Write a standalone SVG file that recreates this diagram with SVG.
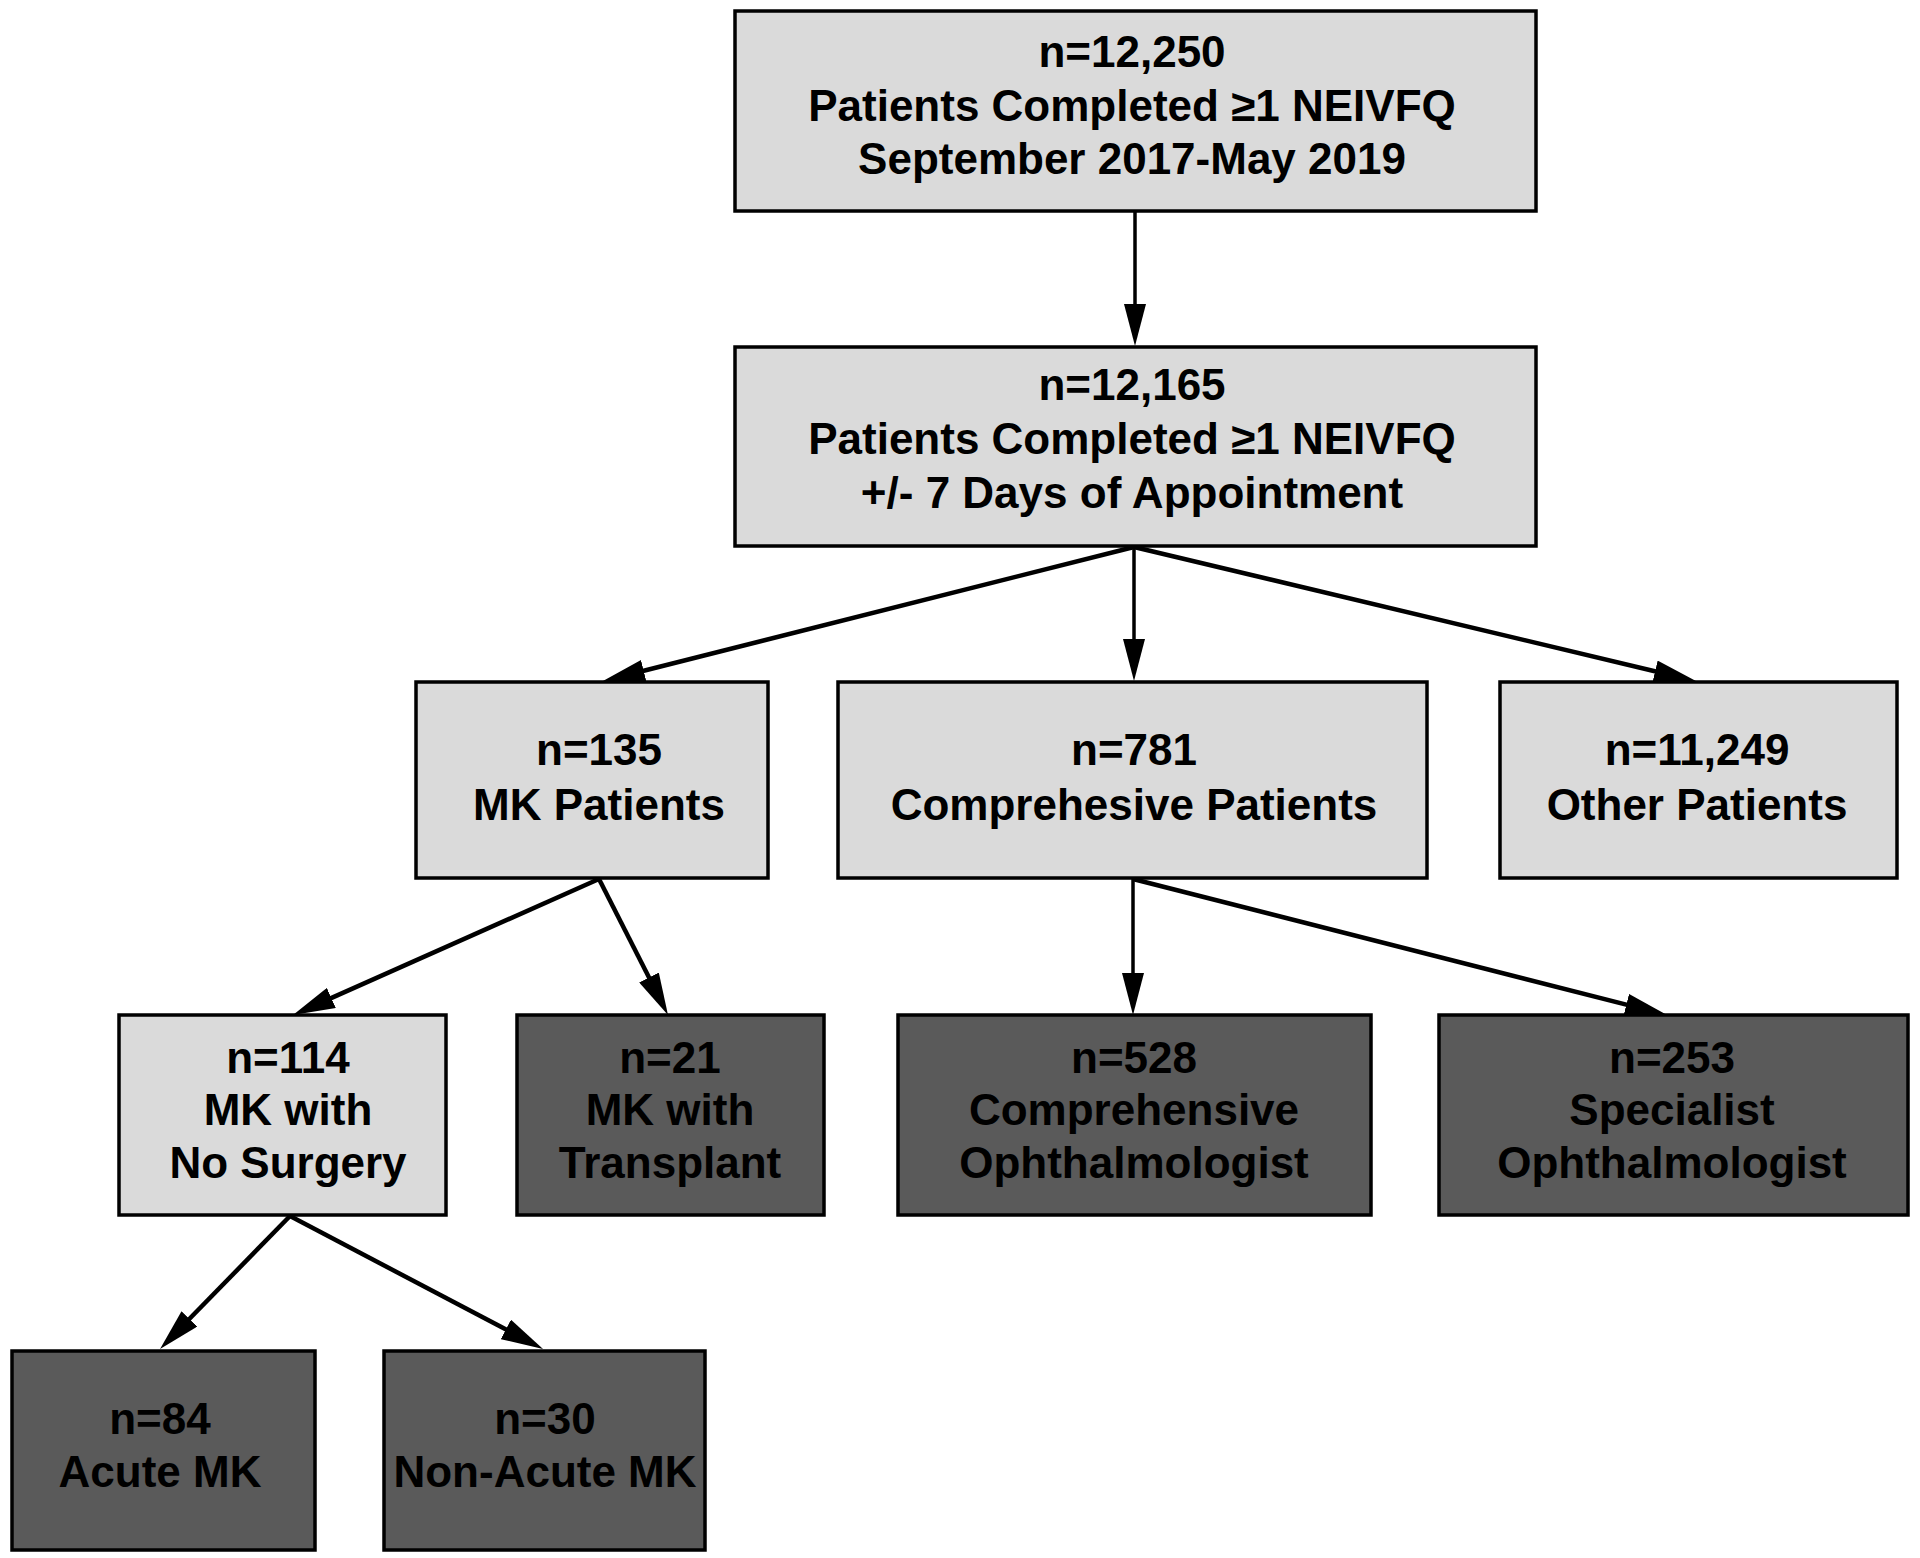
<svg xmlns="http://www.w3.org/2000/svg" width="1920" height="1558" viewBox="0 0 1920 1558">
<defs>
<marker id="ah" markerUnits="userSpaceOnUse" markerWidth="42" markerHeight="22" viewBox="0 0 42 22" refX="4" refY="11" orient="auto">
<path d="M0,0 L42,11 L0,22 z" fill="#000"/>
</marker>
<style>
.light{fill:#dadada;stroke:#000;stroke-width:3.5}
.dark{fill:#5a5a5a;stroke:#000;stroke-width:3.5}
text{font-family:"Liberation Sans",Arial,sans-serif;font-weight:bold;font-size:44px;fill:#000;text-anchor:middle}
.edge{stroke:#000;stroke-width:4.5;fill:none;marker-end:url(#ah)}
.v{stroke-width:3.5}
</style>
</defs>
<rect width="1920" height="1558" fill="#fff"/>
<g id="connectors">
<line class="edge v" x1="1135" y1="211" x2="1135" y2="308"/>
<line class="edge" x1="1134" y1="547" x2="639.8" y2="671.7"/>
<line class="edge v" x1="1134" y1="547" x2="1134" y2="643"/>
<line class="edge" x1="1134" y1="547" x2="1659" y2="672.2"/>
<line class="edge" x1="599" y1="879" x2="327.7" y2="999.6"/>
<line class="edge" x1="599" y1="879" x2="650.8" y2="981.1"/>
<line class="edge v" x1="1133" y1="879" x2="1133" y2="977"/>
<line class="edge" x1="1133" y1="879" x2="1630.2" y2="1005.6"/>
<line class="edge" x1="290" y1="1216" x2="186.6" y2="1321.8"/>
<line class="edge" x1="290" y1="1216" x2="509.4" y2="1331.3"/>
</g>
<g id="n12250">
<rect class="light" x="735" y="11" width="801" height="200"/>
<text x="1132" y="67">n=12,250</text>
<text x="1132" y="121">Patients Completed ≥1 NEIVFQ</text>
<text x="1132" y="174">September 2017-May 2019</text>
</g>
<g id="n12165">
<rect class="light" x="735" y="347" width="801" height="199"/>
<text x="1132" y="400">n=12,165</text>
<text x="1132" y="454">Patients Completed ≥1 NEIVFQ</text>
<text x="1132" y="508">+/- 7 Days of Appointment</text>
</g>
<g id="n135">
<rect class="light" x="416" y="682" width="352" height="196"/>
<text x="599" y="765">n=135</text>
<text x="599" y="820">MK Patients</text>
</g>
<g id="n781">
<rect class="light" x="838" y="682" width="589" height="196"/>
<text x="1134" y="765">n=781</text>
<text x="1134" y="820">Comprehesive Patients</text>
</g>
<g id="n11249">
<rect class="light" x="1500" y="682" width="397" height="196"/>
<text x="1697" y="765">n=11,249</text>
<text x="1697" y="820">Other Patients</text>
</g>
<g id="n114">
<rect class="light" x="119" y="1015" width="327" height="200"/>
<text x="288" y="1073">n=114</text>
<text x="288" y="1125">MK with</text>
<text x="288" y="1178">No Surgery</text>
</g>
<g id="n21">
<rect class="dark" x="517" y="1015" width="307" height="200"/>
<text x="670" y="1073">n=21</text>
<text x="670" y="1125">MK with</text>
<text x="670" y="1178">Transplant</text>
</g>
<g id="n528">
<rect class="dark" x="898" y="1015" width="473" height="200"/>
<text x="1134" y="1073">n=528</text>
<text x="1134" y="1125">Comprehensive</text>
<text x="1134" y="1178">Ophthalmologist</text>
</g>
<g id="n253">
<rect class="dark" x="1439" y="1015" width="469" height="200"/>
<text x="1672" y="1073">n=253</text>
<text x="1672" y="1125">Specialist</text>
<text x="1672" y="1178">Ophthalmologist</text>
</g>
<g id="n84">
<rect class="dark" x="12" y="1351" width="303" height="199"/>
<text x="160" y="1434">n=84</text>
<text x="160" y="1487">Acute MK</text>
</g>
<g id="n30">
<rect class="dark" x="384" y="1351" width="321" height="199"/>
<text x="545" y="1434">n=30</text>
<text x="545" y="1487">Non-Acute MK</text>
</g>
</svg>
